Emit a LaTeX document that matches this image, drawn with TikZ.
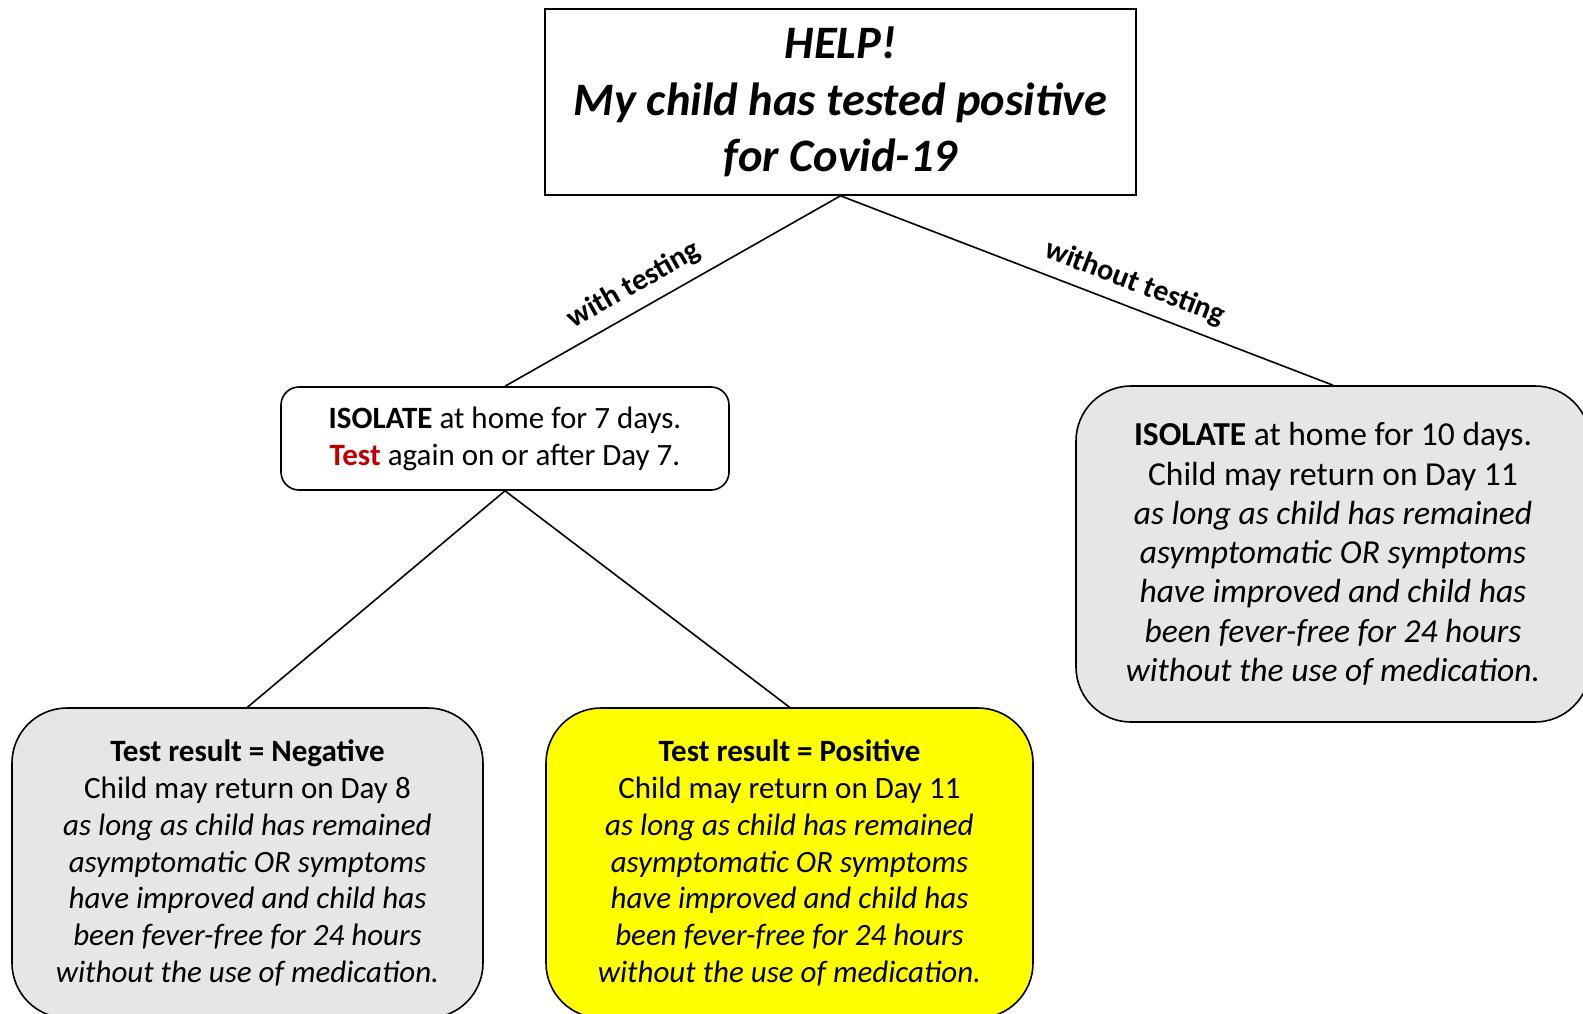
\documentclass[tikz,border=0pt]{standalone}
\usepackage{fontspec}
\setmainfont{Carlito}
\usetikzlibrary{positioning}

\begin{document}
\begin{tikzpicture}[x=1pt, y=-1pt,
        box/.style={draw=black, line width=1.6pt, align=center, inner sep=0pt},
        resultbox/.style={box, rounded corners=55pt, minimum height=310pt,
            font=\fontsize{31}{36.7}\selectfont},
        link/.style={draw=black, line width=1.6pt},
        linklabel/.style={font=\bfseries\fontsize{30}{32}\selectfont,
            sloped, above=7pt, pos=0.58}]
            % Цвета
            \definecolor{boxgray}{RGB}{230,230,230}
            \definecolor{testred}{RGB}{192,0,0}
            \definecolor{hiyellow}{RGB}{255,255,0}

            % Фон
            \fill[white] (0,0) rectangle (1583,1013);
            \useasboundingbox (0,0) rectangle (1583,1013);

            % Узлы
            \node[box, minimum width=591pt, minimum height=186pt,
                font=\bfseries\itshape\fontsize{46.5}{56.5}\selectfont] (help) at (840.5,102)
                {HELP!\\ My child has tested positive\\ for Covid-19};

            \node[box, rounded corners=18pt, minimum width=448pt, minimum height=103pt,
                font=\fontsize{31}{37}\selectfont] (isolate7) at (505,438.5)
                {\textbf{ISOLATE} at home for 7 days.\\
                 \textbf{\textcolor{testred}{Test}} again on or after Day 7.};

            \node[box, rounded corners=55pt, fill=boxgray, minimum width=514pt, minimum height=336pt,
                font=\fontsize{33.5}{39.3}\selectfont] (isolate10) at (1333,554)
                {\textbf{ISOLATE} at home for 10 days.\\
                 Child may return on Day 11\\
                 \textit{as long as child has remained}\\
                 \textit{asymptomatic OR symptoms}\\
                 \textit{have improved and child has}\\
                 \textit{been fever-free for 24 hours}\\
                 \textit{without the use of medication.}};

            \node[resultbox, fill=boxgray, minimum width=471pt] (negative) at (247.5,863)
                {\textbf{Test result = Negative}\\
                 Child may return on Day 8\\
                 \textit{as long as child has remained}\\
                 \textit{asymptomatic OR symptoms}\\
                 \textit{have improved and child has}\\
                 \textit{been fever-free for 24 hours}\\
                 \textit{without the use of medication.}};

            \node[resultbox, fill=hiyellow, minimum width=487pt] (positive) at (789.5,863)
                {\textbf{Test result = Positive}\\
                 Child may return on Day 11\\
                 \textit{as long as child has remained}\\
                 \textit{asymptomatic OR symptoms}\\
                 \textit{have improved and child has}\\
                 \textit{been fever-free for 24 hours}\\
                 \textit{without the use of medication.}};

            % Линии
            \path[link] (help.south) -- node[linklabel] (withlbl) {with testing} (isolate7.north);
            \path[link] (help.south) -- node[linklabel] (withoutlbl) {without testing} (isolate10.north);
            \path[link] (isolate7.south) -- (negative.north);
            \path[link] (isolate7.south) -- (positive.north);

        \end{tikzpicture}
\end{document}
